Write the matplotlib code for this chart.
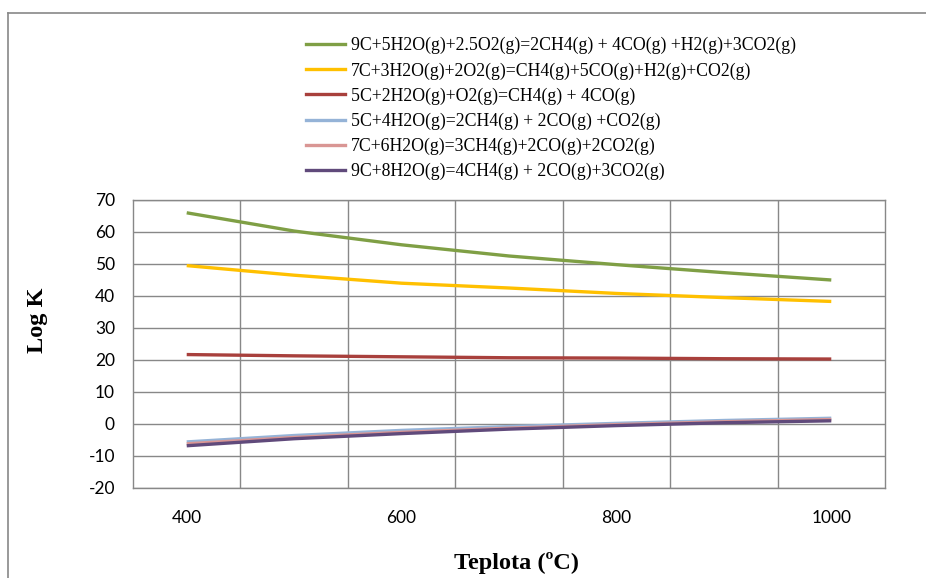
import numpy as np
import matplotlib
matplotlib.use('Agg')
import matplotlib.pyplot as plt
from matplotlib.lines import Line2D

plt.rcParams['axes.unicode_minus'] = False

temps = [400, 500, 600, 700, 800, 900, 1000]

labels = [
    '9C+5H2O(g)+2.5O2(g)=2CH4(g) + 4CO(g) +H2(g)+3CO2(g)',
    '7C+3H2O(g)+2O2(g)=CH4(g)+5CO(g)+H2(g)+CO2(g)',
    '5C+2H2O(g)+O2(g)=CH4(g) + 4CO(g)',
    '5C+4H2O(g)=2CH4(g) + 2CO(g) +CO2(g)',
    '7C+6H2O(g)=3CH4(g)+2CO(g)+2CO2(g)',
    '9C+8H2O(g)=4CH4(g) + 2CO(g)+3CO2(g)',
]
r1 = [66.0, 60.3, 56.0, 52.5, 49.8, 47.3, 45.0]
r2 = [49.5, 46.5, 44.0, 42.5, 40.8, 39.5, 38.3]
r3 = [21.7, 21.3, 21.0, 20.7, 20.6, 20.4, 20.3]
r4 = [-5.6, -3.6, -2.0, -0.8, 0.2, 1.1, 1.8]
r5 = [-6.2, -4.2, -2.6, -1.3, -0.2, 0.7, 1.4]
r6 = [-6.8, -4.6, -3.0, -1.6, -0.5, 0.4, 1.0]
series = [r1, r2, r3, r4, r5, r6]
colors = ['#7F9F45', '#FFC000', '#A8403C', '#95B3D7', '#D99694', '#604A7B']

fig = plt.figure(figsize=(9.26, 5.78), dpi=100)
# chart area border (left and top visible)
fig.add_artist(Line2D([8/926, 8/926], [0, 1 - 13/578], color='#888888', lw=1.2))
fig.add_artist(Line2D([8/926, 1], [1 - 13/578, 1 - 13/578], color='#888888', lw=1.2))

ax = fig.add_axes([133/926, 1 - 488/578, (885 - 133)/926, (488 - 200)/578])
for vals, c in zip(series, colors):
    ax.plot(temps, vals, color=c, lw=2.4, solid_capstyle='butt')

ax.set_xlim(350, 1050)
ax.set_ylim(-20, 70)
ax.set_xticks([400, 600, 800, 1000])
ax.set_xticks(np.arange(450, 1000, 100), minor=True)
ax.set_yticks(np.arange(-20, 71, 10))
ax.grid(True, which='minor', axis='x', color='#888888', lw=1)
ax.grid(True, which='major', axis='y', color='#888888', lw=1)
ax.set_axisbelow(True)
ax.tick_params(which='both', length=0, labelsize=12.5)
ax.tick_params(axis='y', pad=13)
ax.tick_params(axis='x', pad=16)
for lab in ax.get_xticklabels() + ax.get_yticklabels():
    lab.set_family(['Lato', 'DejaVu Sans'])
for s in ax.spines.values():
    s.set_color('#888888')
    s.set_linewidth(1)

ax.set_ylabel('Log K', family='Liberation Serif', fontsize=17.5, fontweight='bold')
ax.yaxis.set_label_coords(-(133 - 38) / 752, (488 - 320) / 288)
ax.set_xlabel('Teplota (ºC)', family='Liberation Serif', fontsize=17.5, fontweight='bold')
ax.xaxis.set_label_coords((516 - 133) / 752, -(563 - 488) / 288)
ax.xaxis.label.set_va('center')
ax.yaxis.label.set_va('center')

handles = [Line2D([], [], color=c, lw=2.4) for c in colors]
fig.legend(handles, labels, loc='upper left', bbox_to_anchor=(299/926, 1 - 30/578),
           frameon=False, prop={'family': 'Liberation Serif', 'size': 12.8},
           handlelength=2.2, handletextpad=0.3, labelspacing=0.44, borderaxespad=0)

fig.savefig('out.png', dpi=100)
